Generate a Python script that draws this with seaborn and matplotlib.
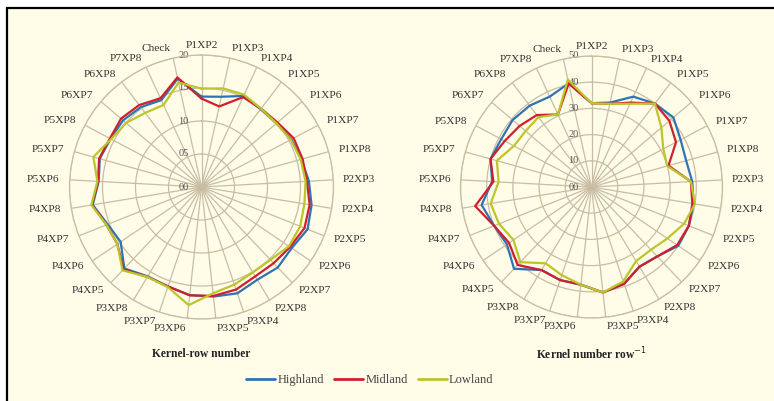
import numpy as np
import pandas as pd
import matplotlib
matplotlib.use("Agg")
import matplotlib.pyplot as plt
import matplotlib.transforms as mtransforms
from matplotlib.patches import Rectangle
from matplotlib.lines import Line2D
import seaborn as sns

# Crosses of the 8-parent half diallel plus the check
crosses = ["P1XP2", "P1XP3", "P1XP4", "P1XP5", "P1XP6", "P1XP7", "P1XP8",
           "P2XP3", "P2XP4", "P2XP5", "P2XP6", "P2XP7", "P2XP8",
           "P3XP4", "P3XP5", "P3XP6", "P3XP7", "P3XP8",
           "P4XP5", "P4XP6", "P4XP7", "P4XP8",
           "P5XP6", "P5XP7", "P5XP8",
           "P6XP7", "P6XP8", "P7XP8", "Check"]
regions = ["Highland", "Midland", "Lowland"]

# Kernel-row number
rows_highland = [13.7, 14.0, 15.2, 14.8, 14.9, 15.4, 15.7, 16.3, 16.9, 17.3,
                 16.5, 16.8, 16.4, 17.0, 16.7, 16.5, 15.9, 15.8, 17.0, 14.8,
                 15.3, 16.7, 15.6, 16.0, 15.6, 15.6, 15.2, 14.5, 16.8]
rows_midland = [13.4, 12.5, 15.0, 14.9, 15.1, 15.8, 15.9, 16.0, 16.6, 16.8,
                16.2, 15.9, 15.8, 16.4, 16.6, 16.5, 15.9, 15.9, 17.2, 15.4,
                15.5, 16.8, 15.7, 16.1, 15.7, 16.0, 15.6, 14.8, 17.0]
rows_lowland = [14.9, 15.3, 15.4, 14.9, 14.9, 15.3, 15.6, 15.8, 15.8, 16.1,
                16.0, 15.2, 15.1, 15.6, 16.2, 18.0, 16.0, 15.9, 17.4, 15.4,
                15.5, 16.9, 15.8, 17.0, 15.5, 15.0, 14.1, 13.7, 16.2]

# Kernel number per row
kpr_highland = [32.0, 33.0, 38.0, 40.0, 41.0, 38.5, 37.5, 38.5, 39.5, 40.0,
                40.0, 36.5, 35.5, 39.0, 40.5, 37.5, 37.5, 37.0, 43.0, 39.0,
                40.0, 42.5, 38.0, 40.0, 39.0, 39.5, 39.0, 38.0, 40.5]
kpr_midland = [32.0, 32.5, 35.5, 40.0, 39.0, 36.5, 30.5, 38.0, 39.0, 40.0,
               39.5, 36.5, 35.5, 39.0, 40.5, 37.5, 37.5, 37.0, 41.0, 38.0,
               40.0, 45.0, 37.5, 40.0, 37.5, 36.0, 34.5, 30.5, 40.5]
kpr_lowland = [32.0, 32.5, 35.0, 40.0, 35.0, 31.0, 30.0, 38.0, 40.0, 38.0,
               35.0, 33.0, 33.0, 38.0, 40.5, 37.5, 35.5, 34.0, 39.5, 36.0,
               38.0, 39.0, 35.5, 37.5, 33.5, 33.0, 33.5, 30.5, 42.0]

colors = {"Highland": "#2E74B5", "Midland": "#D01F2C", "Lowland": "#BCC52A"}
bg = "#FFFCE8"
gridc = "#C8BDA3"
textc = "#333333"

sns.set_theme(style="white")
plt.rcParams["font.family"] = ["Liberation Serif", "DejaVu Serif"]

W, H = 774, 401
fig = plt.figure(figsize=(W / 100, H / 100), dpi=100)
fig.patch.set_facecolor("white")
frame = Rectangle((7 / W, -0.02), 1.0, (H - 8) / H + 0.02,
                  transform=fig.transFigure, facecolor=bg,
                  edgecolor="black", linewidth=1.6, zorder=-10)
fig.patches.append(frame)


def radar(cx, cy, rad, series, rmax, step, title):
    ax = fig.add_axes([(cx - rad) / W, (H - cy - rad) / H, 2 * rad / W, 2 * rad / H],
                      projection="polar")
    ax.set_zorder(1)
    ax.set_facecolor(bg)
    ax.set_theta_zero_location("N")
    ax.set_theta_direction(-1)
    n = len(crosses)
    theta = np.arange(n) * 2 * np.pi / n

    frames = []
    for reg, vals in zip(regions, series):
        t = np.append(theta, theta[0])
        v = np.append(vals, vals[0])
        frames.append(pd.DataFrame({"theta": t, "value": v, "region": reg}))
    df = pd.concat(frames, ignore_index=True)
    sns.lineplot(data=df, x="theta", y="value", hue="region", palette=colors,
                 hue_order=regions, sort=False, estimator=None, linewidth=1.6,
                 legend=False, ax=ax, zorder=3)

    ax.set_ylim(0, rmax)
    ticks = np.arange(0, rmax + step / 2, step)
    ax.set_yticks(ticks)
    ax.set_yticklabels([])
    ax.set_xticks(theta)
    ax.set_xticklabels([])
    ax.grid(True, color=gridc, linewidth=0.9)
    ax.spines["polar"].set_color(gridc)
    ax.spines["polar"].set_linewidth(0.9)
    ax.set_xlabel("")
    ax.set_ylabel("")

    off = mtransforms.offset_copy(ax.transData, fig=fig, x=-13, y=0, units="points")
    for r in ticks:
        ax.text(0, r, f"{int(r):02d}", transform=off, ha="center", va="center",
                fontsize=7.5, color="#555555", zorder=2)

    for ang, name in zip(theta, crosses):
        s = np.sin(ang)
        ha = "left" if s > 0.1 else ("right" if s < -0.1 else "center")
        ax.text(ang, rmax * 1.075, name, ha=ha, va="center", fontsize=8.2,
                color=textc, clip_on=False)

    fig.text(cx / W, 1 - 354 / H, title, ha="center", va="center",
             fontsize=8.3, fontweight="bold", color="#222222")
    return ax


radar(201.5, 187, 132, [rows_highland, rows_midland, rows_lowland], 20, 5,
      "Kernel-row number")
radar(591.5, 187, 131, [kpr_highland, kpr_midland, kpr_lowland], 50, 10,
      "Kernel number row$^{-1}$")

handles = [Line2D([], [], color=colors[r], linewidth=2) for r in regions]
fig.legend(handles, regions, loc="center", bbox_to_anchor=(370 / W, 1 - 380 / H),
           ncol=3, frameon=False, fontsize=9, handlelength=2.3,
           handletextpad=0.2, columnspacing=0.8, labelcolor="#444444")

fig.savefig("out.png", dpi=100, facecolor=fig.get_facecolor())
